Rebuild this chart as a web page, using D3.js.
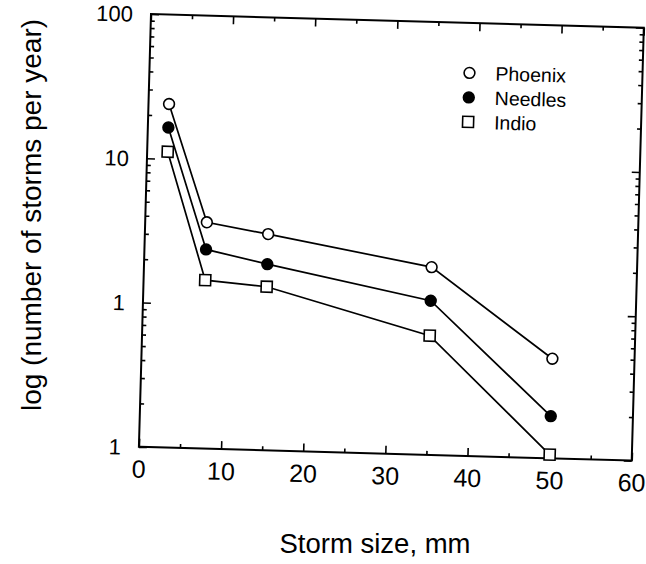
<!DOCTYPE html>
<html>
<head>
<meta charset="utf-8">
<script src="https://cdn.jsdelivr.net/npm/d3@7"></script>
<style>
  html, body { margin: 0; padding: 0; background: #fff; }
  svg { display: block; }
  text { font-family: "Liberation Sans", Arial, Helvetica, sans-serif; fill: #000; }
</style>
</head>
<body>
<svg id="chart" width="646" height="564"></svg>
<script>
// Storm size (mm) at which each frequency was computed
const stormSize = [2.5, 7.5, 15, 35, 50];

// Number of storms per year at each station
const phoenix = [24, 3.7, 3.15, 2.0, 0.49];
const needles = [16.5, 2.4, 1.95, 1.17, 0.196];
const indio   = [11.2, 1.47, 1.36, 0.67, 0.106];

const seriesNames = ["Phoenix", "Needles", "Indio"];

// Axis ticks and their labels
const xMajorTicks = [0, 10, 20, 30, 40, 50, 60];
const xMinorTicks = [5, 15, 25, 35, 45, 55];
const yMajorTicks = [0.1, 1, 10, 100];
const yTickLabels = ["1", "1", "10", "100"];
const yMinorTicks = [0.2, 0.3, 0.4, 0.5, 0.6, 0.7, 0.8, 0.9,
                     2, 3, 4, 5, 6, 7, 8, 9,
                     20, 30, 40, 50, 60, 70, 80, 90];

const xTitle = "Storm size, mm";
const yTitle = "log (number of storms per year)";

const svg = d3.select("#chart");
const W = 493, H = 433;
const originX = 151, originY = 14, tilt = 1.6;

const x = d3.scaleLinear().domain([0, 60]).range([0, W]);
const y = d3.scaleLog().domain([0.1, 100]).range([H, 0]);

const plot = svg.append("g")
  .attr("transform", `translate(${originX},${originY}) rotate(${tilt})`);

function styleAxis(g) {
  g.select(".domain").remove();
  g.selectAll(".tick line").attr("stroke", "#000").attr("stroke-width", 1.6);
}

// Bottom axis: inward ticks with labels
plot.append("g").attr("transform", `translate(0,${H})`)
  .call(d3.axisBottom(x).tickValues(xMajorTicks).tickSize(-8).tickPadding(17)
        .tickFormat(d3.format("d")))
  .call(styleAxis)
  .call(g => g.selectAll("text").attr("font-size", 25).attr("dy", "0.55em"));
plot.append("g").attr("transform", `translate(0,${H})`)
  .call(d3.axisBottom(x).tickValues(xMinorTicks).tickSize(-4).tickFormat(""))
  .call(styleAxis);

// Top axis: ticks only
plot.append("g")
  .call(d3.axisTop(x).tickValues(xMajorTicks).tickSize(-8).tickFormat(""))
  .call(styleAxis);
plot.append("g")
  .call(d3.axisTop(x).tickValues(xMinorTicks).tickSize(-4).tickFormat(""))
  .call(styleAxis);

// Left axis: logarithmic with labels
plot.append("g")
  .call(d3.axisLeft(y).tickValues(yMajorTicks).tickSize(-8).tickPadding(18)
        .tickFormat((d, i) => yTickLabels[i]))
  .call(styleAxis)
  .call(g => g.selectAll("text").attr("font-size", 22).attr("dy", "0.35em"));
plot.append("g")
  .call(d3.axisLeft(y).tickValues(yMinorTicks).tickSize(-4).tickFormat(""))
  .call(styleAxis);

// Right axis: ticks only
plot.append("g").attr("transform", `translate(${W},0)`)
  .call(d3.axisRight(y).tickValues(yMajorTicks).tickSize(-8).tickFormat(""))
  .call(styleAxis);
plot.append("g").attr("transform", `translate(${W},0)`)
  .call(d3.axisRight(y).tickValues(yMinorTicks).tickSize(-4).tickFormat(""))
  .call(styleAxis);

// Frame
plot.append("rect")
  .attr("x", 0).attr("y", 0).attr("width", W).attr("height", H)
  .attr("fill", "none").attr("stroke", "#000").attr("stroke-width", 2);

// Series
const series = [
  { name: seriesNames[0], values: phoenix, marker: "openCircle" },
  { name: seriesNames[1], values: needles, marker: "filledCircle" },
  { name: seriesNames[2], values: indio,   marker: "openSquare" }
];

const line = d3.line()
  .x((d, i) => x(stormSize[i]))
  .y(d => y(d));

function drawMarker(g, type, cx, cy) {
  if (type === "openSquare") {
    g.append("rect")
      .attr("x", cx - 5.5).attr("y", cy - 5.5).attr("width", 11).attr("height", 11)
      .attr("fill", "#fff").attr("stroke", "#000").attr("stroke-width", 1.6);
  } else {
    g.append("circle")
      .attr("cx", cx).attr("cy", cy).attr("r", 5.4)
      .attr("fill", type === "filledCircle" ? "#000" : "#fff")
      .attr("stroke", "#000").attr("stroke-width", 1.6);
  }
}

series.forEach(s => {
  plot.append("path")
    .datum(s.values)
    .attr("d", line)
    .attr("fill", "none")
    .attr("stroke", "#000")
    .attr("stroke-width", 1.7);
  const mg = plot.append("g");
  s.values.forEach((v, i) => drawMarker(mg, s.marker, x(stormSize[i]), y(v)));
});

// Legend
const legend = plot.append("g").attr("transform", "translate(320,50)");
series.forEach((s, i) => {
  const row = legend.append("g").attr("transform", `translate(0,${i * 24.5})`);
  drawMarker(row, s.marker, 0, 0);
  row.append("text")
    .attr("x", 26).attr("y", 0).attr("dy", "0.35em")
    .attr("font-size", 19.5)
    .text(s.name);
});

// Axis titles
svg.append("text")
  .attr("x", 375).attr("y", 553)
  .attr("text-anchor", "middle")
  .attr("font-size", 27.5)
  .text(xTitle);

svg.append("text")
  .attr("transform", "translate(31,215) rotate(-90)")
  .attr("text-anchor", "middle")
  .attr("dy", "0.35em")
  .attr("font-size", 28)
  .text(yTitle);
</script>
</body>
</html>
